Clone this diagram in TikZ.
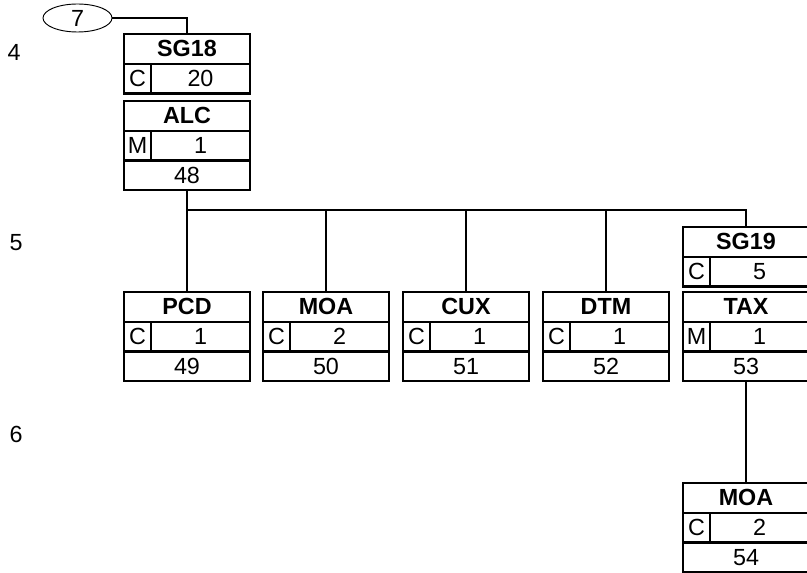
\documentclass[tikz,border=0pt]{standalone}
\usepackage{fontspec}
\setmainfont{Liberation Sans}
\usepackage{tikz}
\usetikzlibrary{shapes.geometric}

% segment box: id, x, y, tag, status, repeat, number
\newcommand{\segbox}[7]{%
  \node[cell, minimum width=94.5pt, font=\bfseries] (#1) at (#2,#3) {#4};
  \node[cell, minimum width=20.25pt] (#1-s) at (#1.south west) {#5};
  \node[cell, minimum width=74.25pt] (#1-r) at (#1-s.north east) {#6};
  \node[cell, minimum width=94.5pt] (#1-n) at (#1-s.south west) {#7};
}
% group box: id, x, y, tag, status, repeat
\newcommand{\grpbox}[6]{%
  \node[cell, minimum width=94.5pt, font=\bfseries] (#1) at (#2,#3) {#4};
  \node[cell, minimum width=20.25pt] (#1-s) at (#1.south west) {#5};
  \node[cell, minimum width=74.25pt] (#1-r) at (#1-s.north east) {#6};
}

\begin{document}
\begin{tikzpicture}[x=0.75pt, y=-0.75pt,
  cell/.style={draw, line width=1.7pt, inner sep=0pt, outer sep=0pt,
    minimum height=22.3pt, anchor=north west},
  link/.style={line width=2.2pt},
  level/.style={inner sep=0pt}]
  \useasboundingbox (0,0) rectangle (807,573);
  \fontsize{17.5}{20}\selectfont
  % Levels
  \node[level] (l4) at (14,52) {4};
  \node[level] (l5) at (16,243) {5};
  \node[level] (l6) at (16,434) {6};
  % Entry reference
  \node[draw, ellipse, line width=0.7pt, inner sep=0pt,
    minimum width=51.75pt, minimum height=21pt] (ref) at (77.5,18) {7};
  % Group 18
  \grpbox{sg18}{124}{34}{SG18}{C}{20}
  \segbox{alc}{124}{101}{ALC}{M}{1}{48}
  % Level 5
  \segbox{pcd}{124}{292}{PCD}{C}{1}{49}
  \segbox{moa}{263}{292}{MOA}{C}{2}{50}
  \segbox{cux}{403}{292}{CUX}{C}{1}{51}
  \segbox{dtm}{543}{292}{DTM}{C}{1}{52}
  \grpbox{sg19}{683}{227}{SG19}{C}{5}
  \segbox{tax}{683}{292}{TAX}{M}{1}{53}
  % Level 6
  \segbox{moab}{683}{483}{MOA}{C}{2}{54}
  % Connectors
  \coordinate (bus) at (187,210);
  \draw[link] (ref.east) -| (sg18.north);
  \draw[link] (alc-n.south) -- (bus) -| (sg19.north);
  \draw[link] (pcd.north) -- (pcd.north |- bus);
  \draw[link] (moa.north) -- (moa.north |- bus);
  \draw[link] (cux.north) -- (cux.north |- bus);
  \draw[link] (dtm.north) -- (dtm.north |- bus);
  \draw[link] (tax-n.south) -- (moab.north);
\end{tikzpicture}
\end{document}
